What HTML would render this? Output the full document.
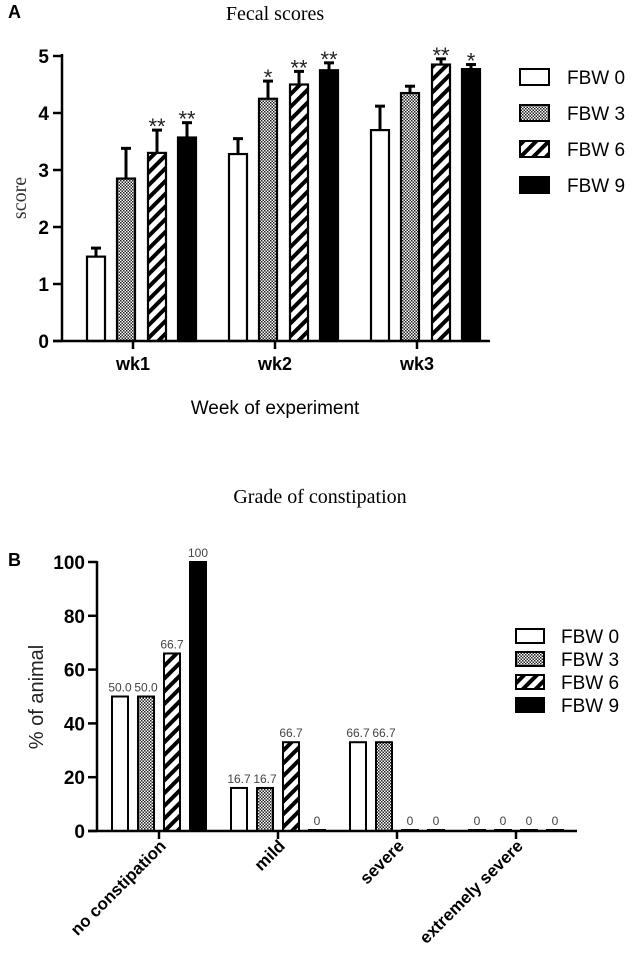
<!DOCTYPE html>
<html><head><meta charset="utf-8"><style>
html,body{margin:0;padding:0;background:#fff;width:640px;height:972px;overflow:hidden}
svg{display:block}
</style></head><body>
<svg id="fig" width="640" height="972" xmlns="http://www.w3.org/2000/svg">
<defs>
<pattern id="chk" width="3" height="3" patternUnits="userSpaceOnUse"><rect width="3" height="3" fill="#fff"/><rect width="1.5" height="1.5" fill="#222"/><rect x="1.5" y="1.5" width="1.5" height="1.5" fill="#222"/></pattern>
<pattern id="str" width="9" height="9" patternUnits="userSpaceOnUse" patternTransform="rotate(45)"><rect width="9" height="9" fill="#fff"/><rect width="4" height="9" fill="#000"/></pattern>
</defs>
<g id="gA"></g>
<g id="gB"></g>
</svg>
<script>
// Chart A data
const weeks = ["wk1","wk2","wk3"];
const groupsA = ["FBW 0","FBW 3","FBW 6","FBW 9"];
const meanFBW0 = [1.48, 3.28, 3.70];
const meanFBW3 = [2.85, 4.25, 4.35];
const meanFBW6 = [3.30, 4.50, 4.85];
const meanFBW9 = [3.57, 4.75, 4.77];
const errFBW0 = [0.15, 0.27, 0.42];
const errFBW3 = [0.53, 0.31, 0.12];
const errFBW6 = [0.40, 0.23, 0.10];
const errFBW9 = [0.26, 0.13, 0.08];
const starsFBW0 = ["","",""];
const starsFBW3 = ["","*",""];
const starsFBW6 = ["**","**","**"];
const starsFBW9 = ["**","**","*"];
const ticksA = [0,1,2,3,4,5];
// Chart B data
const grades = ["no constipation","mild","severe","extremely severe"];
const pctFBW0 = [50, 16, 33, 0];
const pctFBW3 = [50, 16, 33, 0];
const pctFBW6 = [66, 33, 0, 0];
const pctFBW9 = [100, 0, 0, 0];
const lblFBW0 = ["50.0","16.7","66.7","0"];
const lblFBW3 = ["50.0","16.7","66.7","0"];
const lblFBW6 = ["66.7","66.7","0","0"];
const lblFBW9 = ["100","0","0","0"];
const ticksB = [0,20,40,60,80,100];

const NS="http://www.w3.org/2000/svg";
function mk(parent, tag, attrs, text){
  const e=document.createElementNS(NS,tag);
  for(const k in attrs) e.setAttribute(k,attrs[k]);
  if(text!==undefined) e.textContent=text;
  parent.appendChild(e); return e;
}
const fills=["#fff","url(#chk)","url(#str)","#000"];
const SANS='"Liberation Sans", Arial, sans-serif';
const SERIF='"Liberation Serif", serif';

// ---- Chart A ----
(function(){
  const g=document.getElementById('gA');
  const yA=v=>341-v*57;
  const xA=i=>133+i*142;
  const offs=[-46,-16,15,45], bw=18;
  const means=[meanFBW0,meanFBW3,meanFBW6,meanFBW9];
  const errs=[errFBW0,errFBW3,errFBW6,errFBW9];
  const stars=[starsFBW0,starsFBW3,starsFBW6,starsFBW9];
  let t;
  t=mk(g,'text',{x:8,y:18,'font-family':SANS,'font-size':18,'font-weight':'bold'},'A');
  
  t=mk(g,'text',{x:275,y:20,'text-anchor':'middle','font-family':SERIF,'font-size':20},'Fecal scores');
  
  t=mk(g,'text',{x:0,y:0,'text-anchor':'middle','font-family':SERIF,'font-size':20,fill:'#333',transform:'translate(26,198) rotate(-90)'},'score');
  
  t=mk(g,'text',{x:275,y:414,'text-anchor':'middle','font-family':SANS,'font-size':19},'Week of experiment');
  
  ticksA.forEach(v=>{
    mk(g,'line',{x1:53,x2:62,y1:yA(v),y2:yA(v),stroke:'#000','stroke-width':2.5});
    t=mk(g,'text',{x:49,y:yA(v)+7,'text-anchor':'end','font-family':SANS,'font-size':19,'font-weight':'bold'},String(v));
    
  });
  for(let s=0;s<4;s++){
    for(let i=0;i<weeks.length;i++){
      const x=xA(i)+offs[s], top=yA(means[s][i]);
      const r=mk(g,'rect',{x:x,y:top,width:bw,height:yA(0)-top,fill:fills[s],stroke:'#000','stroke-width':2.2});
      
      const et=yA(means[s][i]+errs[s][i]);
      mk(g,'line',{x1:x+bw/2,x2:x+bw/2,y1:top,y2:et,stroke:'#000','stroke-width':3});
      mk(g,'line',{x1:x+bw/2-5,x2:x+bw/2+5,y1:et,y2:et,stroke:'#000','stroke-width':3});
      if(stars[s][i]){
        t=mk(g,'text',{x:x+bw/2,y:et+4,'text-anchor':'middle','font-family':SANS,'font-size':22,fill:'#222'},stars[s][i]);
        
      }
    }
  }
  mk(g,'line',{x1:62,x2:62,y1:54,y2:342,stroke:'#000','stroke-width':2.5});
  mk(g,'line',{x1:53,x2:490,y1:341,y2:341,stroke:'#000','stroke-width':2.5});
  weeks.forEach((w,i)=>{
    mk(g,'line',{x1:xA(i),x2:xA(i),y1:341,y2:349,stroke:'#000','stroke-width':2.5});
    t=mk(g,'text',{x:xA(i),y:370,'text-anchor':'middle','font-family':SANS,'font-size':18,'font-weight':'bold'},w);
    
  });
  groupsA.forEach((n,s)=>{
    const cy=77+s*36;
    const r=mk(g,'rect',{x:520,y:cy-8,width:29,height:16,fill:fills[s],stroke:'#000','stroke-width':2});
    
    t=mk(g,'text',{x:567,y:cy+7,'font-family':SANS,'font-size':19},n);
    
  });
})();

// ---- Chart B ----
(function(){
  const g=document.getElementById('gB');
  const yB=v=>831-v*2.69;
  const xB=i=>159+i*119;
  const offs=[-39,-13,13,39], bw=16;
  const vals=[pctFBW0,pctFBW3,pctFBW6,pctFBW9];
  const lbls=[lblFBW0,lblFBW3,lblFBW6,lblFBW9];
  let t;
  t=mk(g,'text',{x:8,y:566,'font-family':SANS,'font-size':18,'font-weight':'bold'},'B');
  
  t=mk(g,'text',{x:320,y:503,'text-anchor':'middle','font-family':SERIF,'font-size':20},'Grade of constipation');
  
  t=mk(g,'text',{x:0,y:0,'text-anchor':'middle','font-family':SANS,'font-size':20,fill:'#222',transform:'translate(43,697) rotate(-90)'},'% of animal');
  
  ticksB.forEach(v=>{
    mk(g,'line',{x1:88,x2:97,y1:yB(v),y2:yB(v),stroke:'#000','stroke-width':2.5});
    t=mk(g,'text',{x:85,y:yB(v)+7,'text-anchor':'end','font-family':SANS,'font-size':19,'font-weight':'bold'},String(v));
    
  });
  for(let s=0;s<4;s++){
    for(let i=0;i<grades.length;i++){
      const x=xB(i)+offs[s]-bw/2, top=Math.min(yB(vals[s][i]),yB(0)-1);
      const r=mk(g,'rect',{x:x,y:top,width:bw,height:yB(0)-top,fill:fills[s],stroke:'#000','stroke-width':2});
      
      t=mk(g,'text',{x:x+bw/2,y:top-5,'text-anchor':'middle','font-family':SANS,'font-size':12,fill:'#444'},lbls[s][i]);
      
    }
  }
  mk(g,'line',{x1:97,x2:97,y1:561,y2:832,stroke:'#000','stroke-width':2.5});
  mk(g,'line',{x1:88,x2:577,y1:831,y2:831,stroke:'#000','stroke-width':2.5});
  grades.forEach((c,i)=>{
    mk(g,'line',{x1:xB(i),x2:xB(i),y1:831,y2:839,stroke:'#000','stroke-width':2.5});
    t=mk(g,'text',{x:0,y:0,'text-anchor':'end','font-family':SANS,'font-size':17,'font-weight':'bold',transform:'translate('+(xB(i)+8)+',847) rotate(-45)'},c);
    
  });
  groupsA.forEach((n,s)=>{
    const cy=636+s*23;
    const r=mk(g,'rect',{x:516,y:cy-7,width:28,height:14,fill:fills[s],stroke:'#000','stroke-width':2});
    
    t=mk(g,'text',{x:561,y:cy+7,'font-family':SANS,'font-size':19},n);
    
  });
})();
</script>
</body></html>
